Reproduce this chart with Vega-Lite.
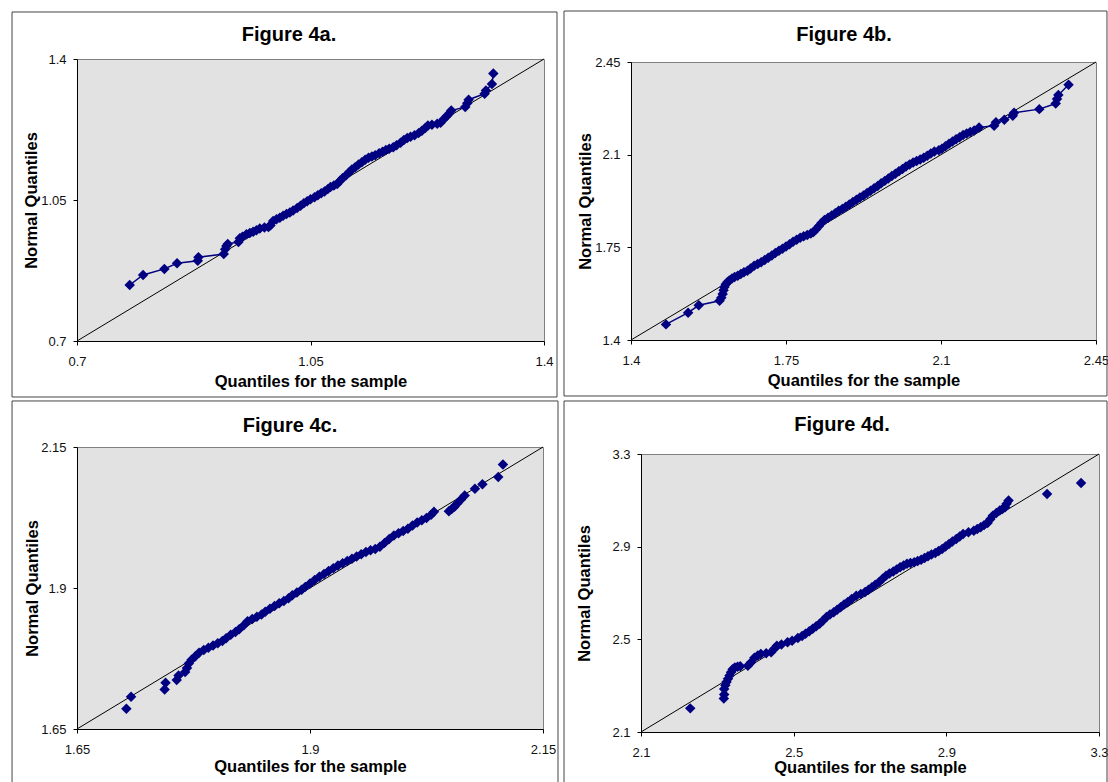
{
  "$schema": "https://vega.github.io/schema/vega-lite/v6.json",
  "background": "white",
  "padding": {"left": 11, "top": 9, "right": 0, "bottom": 0},
  "spacing": 0,
  "config": {
    "view": {"fill": "#e2e2e2", "stroke": "#808080", "strokeWidth": 1},
    "axis": {"grid": false, "labelFont": "Liberation Sans", "labelFontSize": 13, "labelColor": "#111", "titleFont": "Liberation Sans", "titleFontSize": 16.5, "titleFontWeight": "bold", "titleColor": "#000", "domainColor": "#000", "tickColor": "#000", "tickSize": 4, "labelFlush": false, "labelOverlap": false, "labelExpr": "'' + datum.value"},
    "axisX": {"labelPadding": 10},
    "axisY": {"labelPadding": 7, "minExtent": 36, "maxExtent": 36},
    "title": {"font": "Liberation Sans", "fontSize": 20, "fontWeight": "bold", "color": "#000", "anchor": "middle", "frame": "group"}
  },
  "datasets": {
    "a": [
      {"x":0.779,"y":0.839},{"x":0.799,"y":0.864},{"x":0.831,"y":0.879},{"x":0.850,"y":0.893},{"x":0.881,"y":0.899},{"x":0.882,"y":0.908},{"x":0.920,"y":0.916},{"x":0.922,"y":0.928},{"x":0.924,"y":0.936},{"x":0.926,"y":0.941},
      {"x":0.942,"y":0.946},{"x":0.944,"y":0.955},{"x":0.948,"y":0.959},{"x":0.954,"y":0.965},{"x":0.959,"y":0.968},{"x":0.964,"y":0.971},{"x":0.969,"y":0.975},{"x":0.974,"y":0.979},{"x":0.981,"y":0.982},{"x":0.987,"y":0.983},
      {"x":0.990,"y":0.987},{"x":0.994,"y":0.998},{"x":0.999,"y":1.002},{"x":1.004,"y":1.006},{"x":1.009,"y":1.011},{"x":1.014,"y":1.015},{"x":1.019,"y":1.019},{"x":1.024,"y":1.024},{"x":1.030,"y":1.030},{"x":1.035,"y":1.036},
      {"x":1.040,"y":1.042},{"x":1.045,"y":1.047},{"x":1.050,"y":1.052},{"x":1.056,"y":1.057},{"x":1.061,"y":1.062},{"x":1.066,"y":1.067},{"x":1.071,"y":1.071},{"x":1.076,"y":1.077},{"x":1.080,"y":1.082},{"x":1.085,"y":1.086},
      {"x":1.090,"y":1.090},{"x":1.094,"y":1.097},{"x":1.098,"y":1.104},{"x":1.103,"y":1.111},{"x":1.108,"y":1.119},{"x":1.112,"y":1.126},{"x":1.117,"y":1.131},{"x":1.122,"y":1.138},{"x":1.127,"y":1.144},{"x":1.132,"y":1.150},
      {"x":1.137,"y":1.155},{"x":1.142,"y":1.158},{"x":1.147,"y":1.161},{"x":1.153,"y":1.166},{"x":1.158,"y":1.170},{"x":1.163,"y":1.174},{"x":1.168,"y":1.177},{"x":1.174,"y":1.181},{"x":1.179,"y":1.186},{"x":1.185,"y":1.192},
      {"x":1.190,"y":1.199},{"x":1.195,"y":1.204},{"x":1.200,"y":1.207},{"x":1.206,"y":1.211},{"x":1.212,"y":1.216},{"x":1.217,"y":1.222},{"x":1.222,"y":1.229},{"x":1.226,"y":1.235},{"x":1.232,"y":1.237},{"x":1.240,"y":1.239},
      {"x":1.245,"y":1.242},{"x":1.250,"y":1.251},{"x":1.254,"y":1.258},{"x":1.258,"y":1.265},{"x":1.261,"y":1.272},{"x":1.282,"y":1.281},{"x":1.285,"y":1.290},{"x":1.287,"y":1.299},{"x":1.311,"y":1.314},{"x":1.313,"y":1.322},
      {"x":1.322,"y":1.338},{"x":1.324,"y":1.364}
    ],
    "b": [
      {"x":1.479,"y":1.459},{"x":1.529,"y":1.503},{"x":1.553,"y":1.531},{"x":1.600,"y":1.548},{"x":1.604,"y":1.560},{"x":1.607,"y":1.574},{"x":1.609,"y":1.588},{"x":1.611,"y":1.600},{"x":1.614,"y":1.611},{"x":1.618,"y":1.619},
      {"x":1.622,"y":1.625},{"x":1.628,"y":1.632},{"x":1.634,"y":1.638},{"x":1.641,"y":1.643},{"x":1.648,"y":1.649},{"x":1.655,"y":1.656},{"x":1.663,"y":1.662},{"x":1.670,"y":1.670},{"x":1.678,"y":1.680},{"x":1.686,"y":1.687},
      {"x":1.694,"y":1.694},{"x":1.702,"y":1.702},{"x":1.710,"y":1.711},{"x":1.718,"y":1.719},{"x":1.726,"y":1.729},{"x":1.734,"y":1.737},{"x":1.742,"y":1.745},{"x":1.750,"y":1.753},{"x":1.758,"y":1.762},{"x":1.766,"y":1.771},
      {"x":1.774,"y":1.779},{"x":1.782,"y":1.786},{"x":1.790,"y":1.792},{"x":1.798,"y":1.797},{"x":1.806,"y":1.802},{"x":1.812,"y":1.808},{"x":1.818,"y":1.818},{"x":1.824,"y":1.830},{"x":1.830,"y":1.842},{"x":1.837,"y":1.853},
      {"x":1.845,"y":1.862},{"x":1.853,"y":1.870},{"x":1.861,"y":1.879},{"x":1.869,"y":1.888},{"x":1.877,"y":1.895},{"x":1.885,"y":1.903},{"x":1.893,"y":1.912},{"x":1.901,"y":1.921},{"x":1.909,"y":1.930},{"x":1.917,"y":1.938},
      {"x":1.925,"y":1.946},{"x":1.933,"y":1.955},{"x":1.941,"y":1.964},{"x":1.949,"y":1.973},{"x":1.957,"y":1.982},{"x":1.965,"y":1.992},{"x":1.973,"y":2.001},{"x":1.981,"y":2.010},{"x":1.989,"y":2.019},{"x":1.997,"y":2.028},
      {"x":2.005,"y":2.037},{"x":2.013,"y":2.046},{"x":2.021,"y":2.055},{"x":2.029,"y":2.063},{"x":2.037,"y":2.070},{"x":2.045,"y":2.076},{"x":2.053,"y":2.082},{"x":2.061,"y":2.088},{"x":2.069,"y":2.096},{"x":2.077,"y":2.104},
      {"x":2.085,"y":2.112},{"x":2.095,"y":2.117},{"x":2.102,"y":2.122},{"x":2.110,"y":2.132},{"x":2.118,"y":2.141},{"x":2.126,"y":2.150},{"x":2.134,"y":2.158},{"x":2.142,"y":2.166},{"x":2.150,"y":2.174},{"x":2.158,"y":2.180},
      {"x":2.166,"y":2.186},{"x":2.175,"y":2.191},{"x":2.186,"y":2.203},{"x":2.220,"y":2.209},{"x":2.224,"y":2.222},{"x":2.243,"y":2.232},{"x":2.262,"y":2.247},{"x":2.265,"y":2.258},{"x":2.322,"y":2.272},{"x":2.359,"y":2.293},
      {"x":2.362,"y":2.310},{"x":2.365,"y":2.325},{"x":2.388,"y":2.364}
    ],
    "c": [
      {"x":1.703,"y":1.686},{"x":1.708,"y":1.707},{"x":1.744,"y":1.720},{"x":1.745,"y":1.732},{"x":1.757,"y":1.737},{"x":1.759,"y":1.745},{"x":1.766,"y":1.751},{"x":1.768,"y":1.758},{"x":1.770,"y":1.766},{"x":1.773,"y":1.773},
      {"x":1.777,"y":1.779},{"x":1.781,"y":1.785},{"x":1.786,"y":1.790},{"x":1.791,"y":1.794},{"x":1.796,"y":1.798},{"x":1.801,"y":1.802},{"x":1.806,"y":1.806},{"x":1.810,"y":1.811},{"x":1.815,"y":1.817},{"x":1.820,"y":1.822},
      {"x":1.824,"y":1.827},{"x":1.829,"y":1.834},{"x":1.833,"y":1.841},{"x":1.838,"y":1.845},{"x":1.843,"y":1.849},{"x":1.848,"y":1.853},{"x":1.852,"y":1.858},{"x":1.857,"y":1.863},{"x":1.862,"y":1.868},{"x":1.867,"y":1.873},
      {"x":1.872,"y":1.877},{"x":1.877,"y":1.882},{"x":1.881,"y":1.887},{"x":1.886,"y":1.892},{"x":1.891,"y":1.897},{"x":1.895,"y":1.902},{"x":1.900,"y":1.908},{"x":1.905,"y":1.914},{"x":1.910,"y":1.920},{"x":1.915,"y":1.925},
      {"x":1.920,"y":1.930},{"x":1.925,"y":1.935},{"x":1.930,"y":1.940},{"x":1.935,"y":1.944},{"x":1.940,"y":1.948},{"x":1.945,"y":1.952},{"x":1.950,"y":1.956},{"x":1.955,"y":1.960},{"x":1.960,"y":1.964},{"x":1.965,"y":1.967},
      {"x":1.970,"y":1.969},{"x":1.975,"y":1.973},{"x":1.980,"y":1.980},{"x":1.985,"y":1.987},{"x":1.990,"y":1.993},{"x":1.995,"y":1.997},{"x":2.000,"y":2.001},{"x":2.005,"y":2.005},{"x":2.010,"y":2.011},{"x":2.015,"y":2.016},
      {"x":2.020,"y":2.020},{"x":2.025,"y":2.024},{"x":2.030,"y":2.030},{"x":2.033,"y":2.035},{"x":2.049,"y":2.036},{"x":2.052,"y":2.040},{"x":2.055,"y":2.044},{"x":2.058,"y":2.050},{"x":2.062,"y":2.057},{"x":2.066,"y":2.064},
      {"x":2.077,"y":2.076},{"x":2.085,"y":2.084},{"x":2.102,"y":2.097},{"x":2.107,"y":2.119}
    ],
    "d": [
      {"x":2.229,"y":2.202},{"x":2.317,"y":2.245},{"x":2.318,"y":2.262},{"x":2.318,"y":2.286},{"x":2.321,"y":2.302},{"x":2.324,"y":2.316},{"x":2.328,"y":2.330},{"x":2.332,"y":2.344},{"x":2.336,"y":2.358},{"x":2.340,"y":2.371},
      {"x":2.346,"y":2.378},{"x":2.353,"y":2.382},{"x":2.360,"y":2.384},{"x":2.380,"y":2.386},{"x":2.388,"y":2.400},{"x":2.397,"y":2.420},{"x":2.406,"y":2.430},{"x":2.414,"y":2.437},{"x":2.428,"y":2.440},{"x":2.441,"y":2.444},
      {"x":2.450,"y":2.460},{"x":2.456,"y":2.472},{"x":2.468,"y":2.478},{"x":2.484,"y":2.487},{"x":2.496,"y":2.494},{"x":2.511,"y":2.506},{"x":2.522,"y":2.514},{"x":2.531,"y":2.524},{"x":2.541,"y":2.535},{"x":2.550,"y":2.546},
      {"x":2.559,"y":2.556},{"x":2.568,"y":2.567},{"x":2.577,"y":2.581},{"x":2.586,"y":2.596},{"x":2.595,"y":2.607},{"x":2.605,"y":2.617},{"x":2.614,"y":2.628},{"x":2.623,"y":2.639},{"x":2.632,"y":2.650},{"x":2.641,"y":2.660},
      {"x":2.652,"y":2.674},{"x":2.664,"y":2.688},{"x":2.676,"y":2.696},{"x":2.687,"y":2.704},{"x":2.696,"y":2.714},{"x":2.705,"y":2.725},{"x":2.714,"y":2.736},{"x":2.724,"y":2.747},{"x":2.733,"y":2.761},{"x":2.742,"y":2.775},
      {"x":2.751,"y":2.784},{"x":2.761,"y":2.793},{"x":2.770,"y":2.802},{"x":2.779,"y":2.811},{"x":2.788,"y":2.819},{"x":2.797,"y":2.826},{"x":2.806,"y":2.830},{"x":2.816,"y":2.833},{"x":2.825,"y":2.838},{"x":2.834,"y":2.844},
      {"x":2.843,"y":2.851},{"x":2.852,"y":2.859},{"x":2.861,"y":2.866},{"x":2.871,"y":2.873},{"x":2.880,"y":2.881},{"x":2.889,"y":2.890},{"x":2.898,"y":2.901},{"x":2.907,"y":2.912},{"x":2.916,"y":2.922},{"x":2.926,"y":2.933},
      {"x":2.935,"y":2.944},{"x":2.944,"y":2.955},{"x":2.958,"y":2.962},{"x":2.972,"y":2.969},{"x":2.981,"y":2.976},{"x":2.990,"y":2.984},{"x":2.999,"y":2.993},{"x":3.008,"y":3.002},{"x":3.015,"y":3.018},{"x":3.022,"y":3.034},
      {"x":3.031,"y":3.045},{"x":3.040,"y":3.056},{"x":3.047,"y":3.063},{"x":3.054,"y":3.070},{"x":3.058,"y":3.085},{"x":3.063,"y":3.099},{"x":3.164,"y":3.127},{"x":3.253,"y":3.175}
    ]
  },
  "vconcat": [
    {
      "spacing": 3,
      "hconcat": [
        {"spacing": 0, "vconcat": [
        {"width": 1, "height": 1, "data": {"values": []}, "mark": "point", "view": {"stroke": null, "fill": null}},
        {
          "width": 467, "height": 282,
          "title": {"text": "Figure 4a.", "dx": -21.5, "offset": -33.8},
          "layer": [
            {"data": {"values": [{}]}, "mark": {"type": "rect", "filled": false, "color": "#444", "strokeWidth": 1},
             "encoding": {"x": {"datum": 0.6026, "scale": {"domain": [0.7, 1.4], "nice": false, "zero": false}, "axis": {"values": [0.7, 1.05, 1.4], "title": "Quantiles for the sample", "titlePadding": 5}}, "x2": {"datum": 1.4195},
                          "y": {"datum": 1.5167, "scale": {"domain": [0.7, 1.4], "nice": false, "zero": false}, "axis": {"values": [0.7, 1.05, 1.4], "title": "Normal Quantiles", "titlePadding": 1.6}}, "y2": {"datum": 0.561}}},
            {"data": {"values": [{}]}, "mark": {"type": "rule", "color": "#000", "strokeWidth": 1},
             "encoding": {"x": {"datum": 0.7, "scale": {"domain": [0.7, 1.4], "nice": false, "zero": false}, "axis": {"values": [0.7, 1.05, 1.4], "title": "Quantiles for the sample", "titlePadding": 5}}, "x2": {"datum": 1.4},
                          "y": {"datum": 0.7, "scale": {"domain": [0.7, 1.4], "nice": false, "zero": false}, "axis": {"values": [0.7, 1.05, 1.4], "title": "Normal Quantiles", "titlePadding": 1.6}}, "y2": {"datum": 1.4}}},
            {"data": {"name": "a"}, "mark": {"type": "line", "color": "#000080", "strokeWidth": 1.5},
             "encoding": {"x": {"field": "x", "type": "quantitative", "scale": {"domain": [0.7, 1.4], "nice": false, "zero": false}, "axis": {"values": [0.7, 1.05, 1.4], "title": "Quantiles for the sample", "titlePadding": 5}},
                          "y": {"field": "y", "type": "quantitative", "scale": {"domain": [0.7, 1.4], "nice": false, "zero": false}, "axis": {"values": [0.7, 1.05, 1.4], "title": "Normal Quantiles", "titlePadding": 1.6}}}},
            {"data": {"name": "a"}, "mark": {"type": "point", "shape": "diamond", "filled": true, "color": "#000080", "size": 110, "opacity": 1},
             "encoding": {"x": {"field": "x", "type": "quantitative", "scale": {"domain": [0.7, 1.4], "nice": false, "zero": false}, "axis": {"values": [0.7, 1.05, 1.4], "title": "Quantiles for the sample", "titlePadding": 5}},
                          "y": {"field": "y", "type": "quantitative", "scale": {"domain": [0.7, 1.4], "nice": false, "zero": false}, "axis": {"values": [0.7, 1.05, 1.4], "title": "Normal Quantiles", "titlePadding": 1.6}}}}
          ]
        }]},
        {"spacing": 0, "vconcat": [
        {"width": 1, "height": 1, "data": {"values": []}, "mark": "point", "view": {"stroke": null, "fill": null}},
        {
          "width": 465, "height": 278,
          "title": {"text": "Figure 4b.", "dx": -19.5, "offset": -34.1},
          "layer": [
            {"data": {"values": [{}]}, "mark": {"type": "rect", "filled": false, "color": "#444", "strokeWidth": 1},
             "encoding": {"x": {"datum": 1.2487, "scale": {"domain": [1.4, 2.45], "nice": false, "zero": false}, "axis": {"values": [1.4, 1.75, 2.1, 2.45], "title": "Quantiles for the sample", "titlePadding": 5}}, "x2": {"datum": 2.4748},
                          "y": {"datum": 2.6426, "scale": {"domain": [1.4, 2.45], "nice": false, "zero": false}, "axis": {"values": [1.4, 1.75, 2.1, 2.45], "title": "Normal Quantiles", "titlePadding": 1.5}}, "y2": {"datum": 1.1885}}},
            {"data": {"values": [{}]}, "mark": {"type": "rule", "color": "#000", "strokeWidth": 1},
             "encoding": {"x": {"datum": 1.4, "scale": {"domain": [1.4, 2.45], "nice": false, "zero": false}, "axis": {"values": [1.4, 1.75, 2.1, 2.45], "title": "Quantiles for the sample", "titlePadding": 5}}, "x2": {"datum": 2.45},
                          "y": {"datum": 1.4, "scale": {"domain": [1.4, 2.45], "nice": false, "zero": false}, "axis": {"values": [1.4, 1.75, 2.1, 2.45], "title": "Normal Quantiles", "titlePadding": 1.5}}, "y2": {"datum": 2.45}}},
            {"data": {"name": "b"}, "mark": {"type": "line", "color": "#000080", "strokeWidth": 1.5},
             "encoding": {"x": {"field": "x", "type": "quantitative", "scale": {"domain": [1.4, 2.45], "nice": false, "zero": false}, "axis": {"values": [1.4, 1.75, 2.1, 2.45], "title": "Quantiles for the sample", "titlePadding": 5}},
                          "y": {"field": "y", "type": "quantitative", "scale": {"domain": [1.4, 2.45], "nice": false, "zero": false}, "axis": {"values": [1.4, 1.75, 2.1, 2.45], "title": "Normal Quantiles", "titlePadding": 1.5}}}},
            {"data": {"name": "b"}, "mark": {"type": "point", "shape": "diamond", "filled": true, "color": "#000080", "size": 110, "opacity": 1},
             "encoding": {"x": {"field": "x", "type": "quantitative", "scale": {"domain": [1.4, 2.45], "nice": false, "zero": false}, "axis": {"values": [1.4, 1.75, 2.1, 2.45], "title": "Quantiles for the sample", "titlePadding": 5}},
                          "y": {"field": "y", "type": "quantitative", "scale": {"domain": [1.4, 2.45], "nice": false, "zero": false}, "axis": {"values": [1.4, 1.75, 2.1, 2.45], "title": "Normal Quantiles", "titlePadding": 1.5}}}}
          ]
        }]}
      ]
    },
    {
      "spacing": 3,
      "hconcat": [
        {"spacing": 0, "vconcat": [
        {"width": 1, "height": 1, "data": {"values": []}, "mark": "point", "view": {"stroke": null, "fill": null}},
        {
          "width": 466, "height": 282,
          "title": {"text": "Figure 4c.", "dx": -20, "offset": -35.5},
          "layer": [
            {"data": {"values": [{}]}, "mark": {"type": "rect", "filled": false, "color": "#444", "strokeWidth": 1},
             "encoding": {"x": {"datum": 1.5803, "scale": {"domain": [1.65, 2.15], "nice": false, "zero": false}, "axis": {"values": [1.65, 1.9, 2.15], "title": "Quantiles for the sample", "titlePadding": 2.8}}, "x2": {"datum": 2.1661},
                          "y": {"datum": 2.2316, "scale": {"domain": [1.65, 2.15], "nice": false, "zero": false}, "axis": {"values": [1.65, 1.9, 2.15], "title": "Normal Quantiles", "titlePadding": 0.6}}, "y2": {"datum": 1.5436}}},
            {"data": {"values": [{}]}, "mark": {"type": "rule", "color": "#000", "strokeWidth": 1},
             "encoding": {"x": {"datum": 1.65, "scale": {"domain": [1.65, 2.15], "nice": false, "zero": false}, "axis": {"values": [1.65, 1.9, 2.15], "title": "Quantiles for the sample", "titlePadding": 2.8}}, "x2": {"datum": 2.15},
                          "y": {"datum": 1.65, "scale": {"domain": [1.65, 2.15], "nice": false, "zero": false}, "axis": {"values": [1.65, 1.9, 2.15], "title": "Normal Quantiles", "titlePadding": 0.6}}, "y2": {"datum": 2.15}}},
            {"data": {"name": "c"}, "mark": {"type": "point", "shape": "diamond", "filled": true, "color": "#000080", "size": 110, "opacity": 1},
             "encoding": {"x": {"field": "x", "type": "quantitative", "scale": {"domain": [1.65, 2.15], "nice": false, "zero": false}, "axis": {"values": [1.65, 1.9, 2.15], "title": "Quantiles for the sample", "titlePadding": 2.8}},
                          "y": {"field": "y", "type": "quantitative", "scale": {"domain": [1.65, 2.15], "nice": false, "zero": false}, "axis": {"values": [1.65, 1.9, 2.15], "title": "Normal Quantiles", "titlePadding": 0.6}}}}
          ]
        }]},
        {"spacing": 0, "vconcat": [
        {"width": 1, "height": 1, "data": {"values": []}, "mark": "point", "view": {"stroke": null, "fill": null}},
        {
          "width": 458, "height": 278,
          "title": {"text": "Figure 4d.", "dx": -28, "offset": -35},
          "layer": [
            {"data": {"values": [{}]}, "mark": {"type": "rect", "filled": false, "color": "#444", "strokeWidth": 1},
             "encoding": {"x": {"datum": 1.8983, "scale": {"domain": [2.1, 3.3], "nice": false, "zero": false}, "axis": {"values": [2.1, 2.5, 2.9, 3.3], "title": "Quantiles for the sample", "titlePadding": 0}}, "x2": {"datum": 3.321},
                          "y": {"datum": 3.5288, "scale": {"domain": [2.1, 3.3], "nice": false, "zero": false}, "axis": {"values": [2.1, 2.5, 2.9, 3.3], "title": "Normal Quantiles", "titlePadding": 12.6}}, "y2": {"datum": 1.854}}},
            {"data": {"values": [{}]}, "mark": {"type": "rule", "color": "#000", "strokeWidth": 1},
             "encoding": {"x": {"datum": 2.1, "scale": {"domain": [2.1, 3.3], "nice": false, "zero": false}, "axis": {"values": [2.1, 2.5, 2.9, 3.3], "title": "Quantiles for the sample", "titlePadding": 0}}, "x2": {"datum": 3.3},
                          "y": {"datum": 2.1, "scale": {"domain": [2.1, 3.3], "nice": false, "zero": false}, "axis": {"values": [2.1, 2.5, 2.9, 3.3], "title": "Normal Quantiles", "titlePadding": 12.6}}, "y2": {"datum": 3.3}}},
            {"data": {"name": "d"}, "mark": {"type": "point", "shape": "diamond", "filled": true, "color": "#000080", "size": 110, "opacity": 1},
             "encoding": {"x": {"field": "x", "type": "quantitative", "scale": {"domain": [2.1, 3.3], "nice": false, "zero": false}, "axis": {"values": [2.1, 2.5, 2.9, 3.3], "title": "Quantiles for the sample", "titlePadding": 0}},
                          "y": {"field": "y", "type": "quantitative", "scale": {"domain": [2.1, 3.3], "nice": false, "zero": false}, "axis": {"values": [2.1, 2.5, 2.9, 3.3], "title": "Normal Quantiles", "titlePadding": 12.6}}}}
          ]
        }]}
      ]
    }
  ]
}
